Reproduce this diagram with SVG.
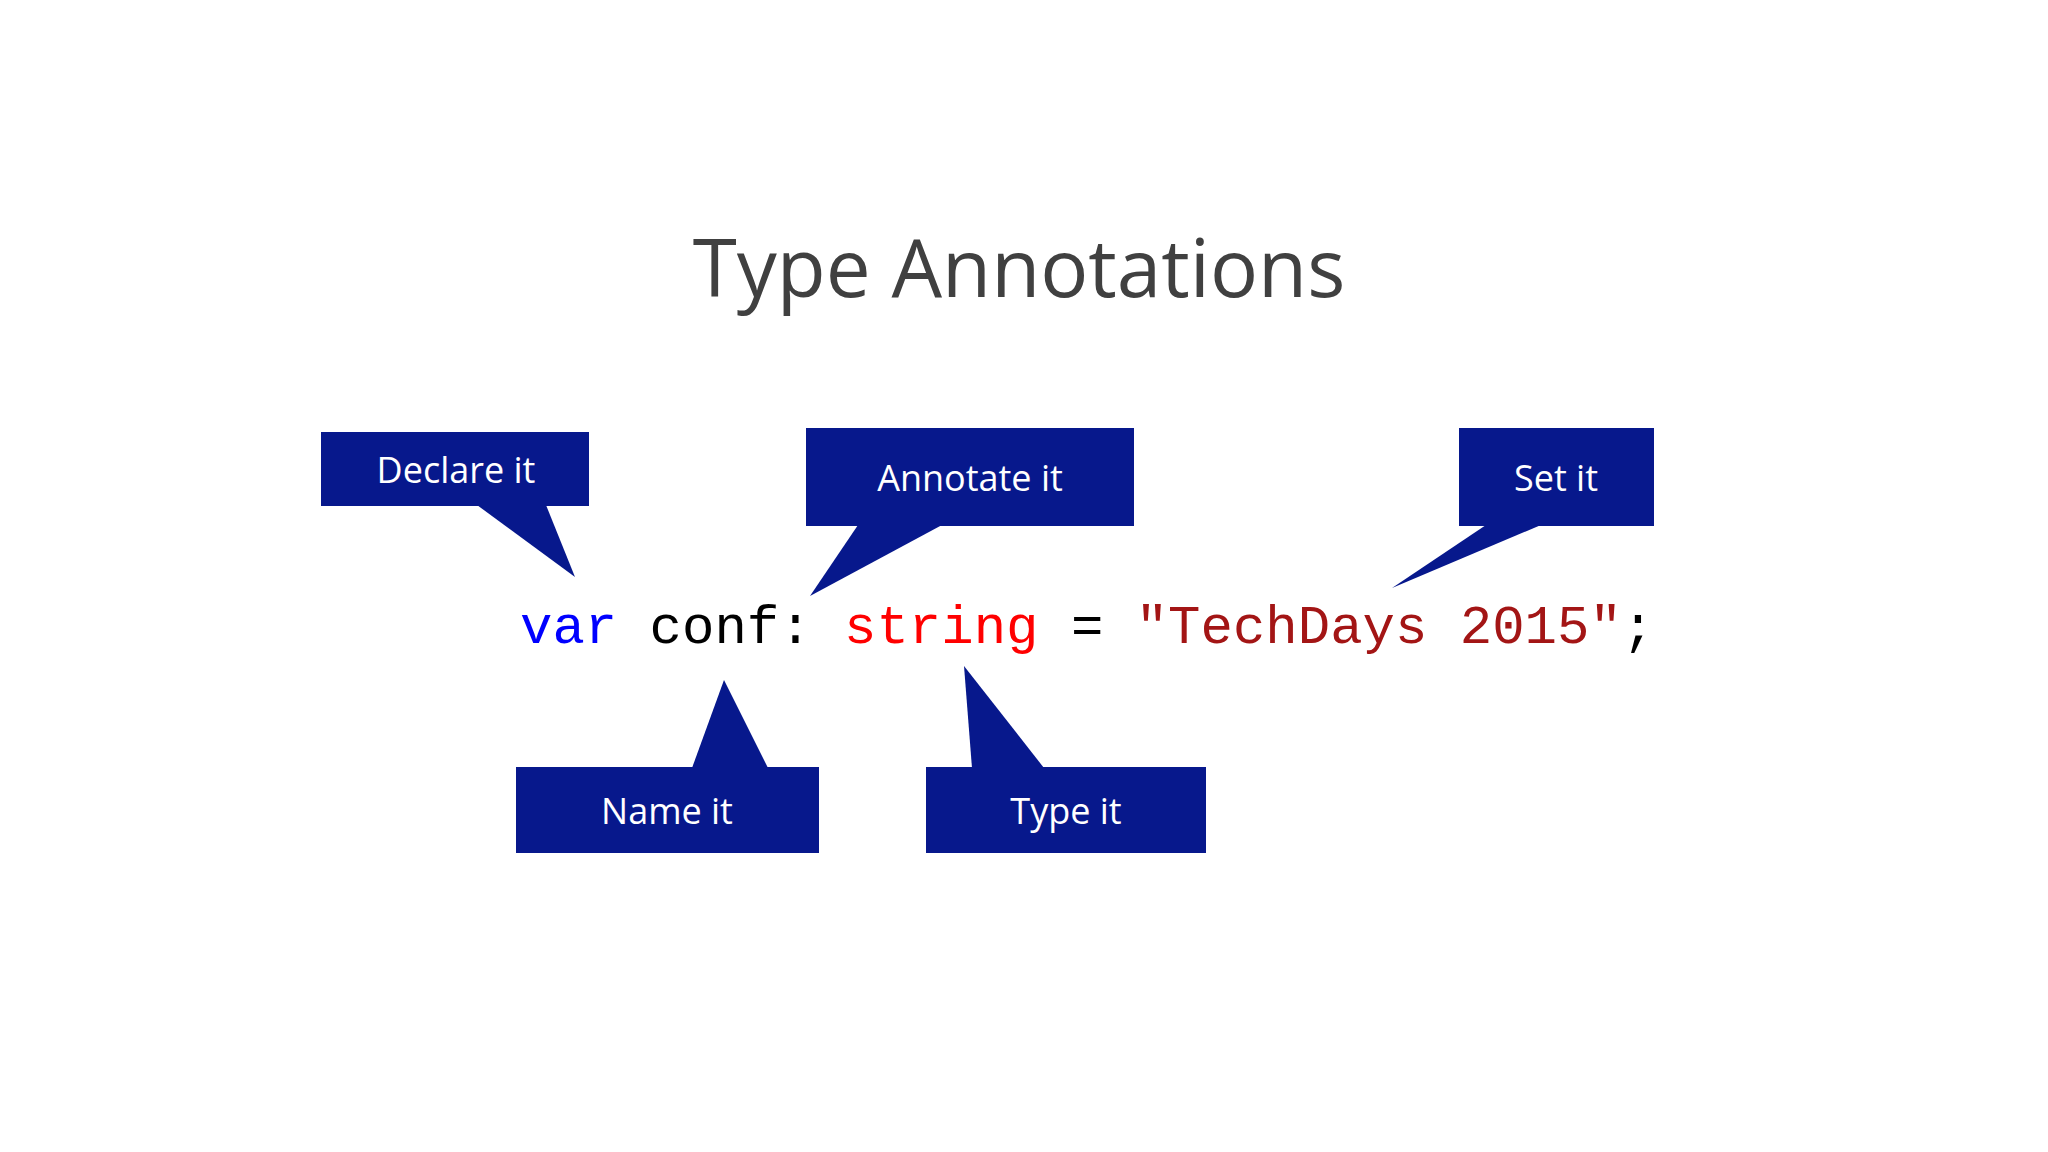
<svg xmlns="http://www.w3.org/2000/svg" width="2048" height="1152" viewBox="0 0 2048 1152">
<style>
.c{fill:#07188c}
.l{fill:#fff;font-family:"Open Sans","Noto Sans",sans-serif;font-size:36px;text-anchor:middle}
.code{font-family:"Liberation Mono","DejaVu Sans Mono",monospace;font-size:54px}
</style>
<rect width="2048" height="1152" fill="#fff"/>
<text x="1019" y="297" font-family="Open Sans,Noto Sans,sans-serif" font-size="80" fill="#404040" text-anchor="middle">Type Annotations</text>
<text class="code" x="520" y="643" xml:space="preserve"><tspan fill="#0000ff">var</tspan><tspan fill="#000"> conf: </tspan><tspan fill="#ff0000">string</tspan><tspan fill="#000"> = </tspan><tspan fill="#a31515">"TechDays 2015"</tspan><tspan fill="#000">;</tspan></text>
<g id="connectors"></g>
<g id="declare"><rect class="c" x="321" y="432" width="268" height="74"/><polygon class="c" points="477,505 546,505 575,577"/><text class="l" x="456" y="483">Declare it</text></g>
<g id="annotate"><rect class="c" x="806" y="428" width="328" height="98"/><polygon class="c" points="858,525 942,525 810,596"/><text class="l" x="970" y="491">Annotate it</text></g>
<g id="set"><rect class="c" x="1459" y="428" width="195" height="98"/><polygon class="c" points="1486,525 1541,525 1392,588"/><text class="l" x="1556" y="491">Set it</text></g>
<g id="name"><rect class="c" x="516" y="767" width="303" height="86"/><polygon class="c" points="692,768 768,768 724,680"/><text class="l" x="667" y="824">Name it</text></g>
<g id="type"><rect class="c" x="926" y="767" width="280" height="86"/><polygon class="c" points="972,768 1044,768 964,666"/><text class="l" x="1066" y="824">Type it</text></g>
</svg>
